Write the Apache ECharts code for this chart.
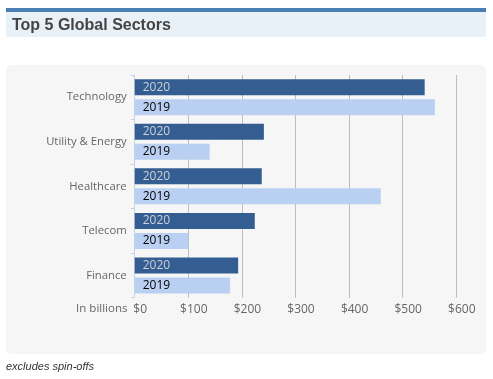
<!DOCTYPE html>
<html>
<head>
<meta charset="utf-8">
<script src="https://cdn.jsdelivr.net/npm/echarts@6/dist/echarts.min.js"></script>
<style>
html,body{margin:0;padding:0;background:#fff;}
#c{width:493px;height:379px;}
</style>
</head>
<body>
<div id="c"></div>
<script>
var categories = ['Technology', 'Utility & Energy', 'Healthcare', 'Telecom', 'Finance'];
var values2020 = [541, 241, 237, 224, 193];
var values2019 = [560, 140, 459, 100, 178];
var xTicks = [0, 100, 200, 300, 400, 500, 600];
var seriesNames = ['2020', '2019'];

var chart = echarts.init(document.getElementById('c'), null, {renderer: 'canvas'});
var font = 'Open Sans';
chart.setOption({
  animation: false,
  title: {
    text: 'Top 5 Global Sectors',
    left: 12, top: 18, padding: 0,
    textStyle: {fontFamily: 'Liberation Sans', fontWeight: 'bold', fontSize: 16, color: '#444'}
  },
  graphic: [
    {type: 'rect', z: -10, silent: true, shape: {x: 6, y: 8, width: 480, height: 4}, style: {fill: '#4a80b4'}},
    {type: 'rect', z: -10, silent: true, shape: {x: 6, y: 12, width: 480, height: 25}, style: {fill: '#e8f0f8'}},
    {type: 'rect', z: -10, silent: true, shape: {x: 6, y: 65, width: 480, height: 289, r: 5}, style: {fill: '#f6f6f6'}},
    {type: 'text', left: 6, top: 361, style: {text: 'excludes spin-offs', fontFamily: 'Liberation Sans', fontStyle: 'italic', fontSize: 11, fill: '#333'}}
  ],
  grid: {left: 134.7, top: 75, width: 321.6, height: 222.7, containLabel: false},
  xAxis: {
    type: 'value', min: 0, max: 600, interval: 100,
    name: 'In billions', nameLocation: 'start', nameGap: 5,
    nameTextStyle: {fontFamily: font, fontSize: 11.5, color: '#666', verticalAlign: 'top', padding: [5, 0, 0, 0]},
    axisLine: {show: false}, axisTick: {show: false},
    axisLabel: {
      fontFamily: font, fontSize: 12, color: '#666', margin: 6, padding: [0, 0, 0, 11],
      formatter: function (v) { return xTicks.indexOf(v) >= 0 ? '$' + v : ''; }
    },
    splitLine: {show: true, lineStyle: {color: '#bdbdbd', width: 1}}
  },
  yAxis: {
    type: 'category', data: categories, inverse: true,
    axisLine: {show: true, lineStyle: {color: '#c6d4ea'}},
    axisTick: {show: true, length: 4, lineStyle: {color: '#c6d4ea'}},
    axisLabel: {fontFamily: font, fontSize: 11.3, color: '#666', margin: 8},
    splitLine: {show: false}
  },
  series: [
    {
      name: seriesNames[0], type: 'bar', data: values2020, barWidth: 16, barGap: '25%',
      itemStyle: {color: '#345e91'},
      label: {show: true, position: 'insideLeft', offset: [3, 0], formatter: seriesNames[0], fontFamily: font, fontSize: 12, color: '#cdd0d8'}
    },
    {
      name: seriesNames[1], type: 'bar', data: values2019, barWidth: 16,
      itemStyle: {color: '#bad0f2'},
      label: {show: true, position: 'insideLeft', offset: [3, 0], formatter: seriesNames[1], fontFamily: font, fontSize: 12, color: '#000'}
    }
  ]
});
</script>
</body>
</html>
